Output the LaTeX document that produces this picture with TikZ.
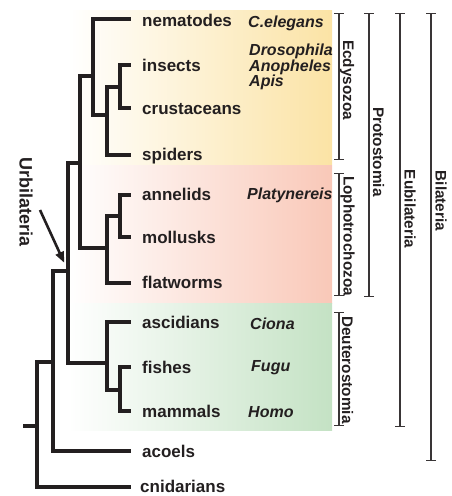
\documentclass[tikz,border=0pt]{standalone}
\usepackage{fontspec}
\setmainfont{Liberation Sans}
\usetikzlibrary{arrows.meta}
\definecolor{ink}{HTML}{231F20}
\definecolor{ecdy}{HTML}{FBE3A5}
\definecolor{loph}{HTML}{F9C8B8}
\definecolor{deut}{HTML}{C4E2C4}
\begin{document}
\begin{tikzpicture}[x=1pt,y=-1pt,
  branch/.style={line width=3.2pt, draw=ink, line join=miter},
  taxon/.style={anchor=base west, inner sep=0pt, font=\fontsize{17}{20}\selectfont\bfseries, text=ink},
  genus/.style={anchor=base west, inner sep=0pt, font=\fontsize{16}{16}\selectfont\bfseries\itshape, text=ink},
  clade/.style={rotate=-90, inner sep=0pt, font=\fontsize{15.3}{16}\selectfont\bfseries, text=ink},
  bracket/.style={line width=1.4pt, draw=ink!90, {Bar[width=10pt]}-{Bar[width=10pt]}},
]
\useasboundingbox (0,0) rectangle (452,496);
% backgrounds
\fill[left color=white, right color=ecdy] (68,10) rectangle (332,164.5);
\fill[left color=white, right color=loph] (68,165.5) rectangle (332,303.5);
\fill[left color=white, right color=deut] (68,303.5) rectangle (332,430);

% leaves (line ends)
\coordinate (nem) at (131,19);
\coordinate (ins) at (131,65);
\coordinate (cru) at (131,108);
\coordinate (spi) at (131,155);
\coordinate (ann) at (131,195);
\coordinate (mol) at (131,237);
\coordinate (fla) at (131,283);
\coordinate (asc) at (131,322);
\coordinate (fis) at (131,367);
\coordinate (mam) at (131,411);
\coordinate (aco) at (131,451);
\coordinate (cni) at (131,487);
% internal nodes
\coordinate (IC) at (120,87);
\coordinate (ICS) at (107,115);
\coordinate (Ecd) at (93,76);
\coordinate (AM) at (120,216);
\coordinate (Lop) at (107,248);
\coordinate (Pro) at (80,163);
\coordinate (FM) at (120,390);
\coordinate (Deu) at (107,363);
\coordinate (Eub) at (68,271);
\coordinate (Bil) at (53,362);
\coordinate (Root) at (37,426);
\coordinate (stub) at (23,426);

% tree
\draw[branch] (IC) |- (ins);
\draw[branch] (IC) |- (cru);
\draw[branch] (ICS) |- (IC);
\draw[branch] (ICS) |- (spi);
\draw[branch] (Ecd) |- (nem);
\draw[branch] (Ecd) |- (ICS);
\draw[branch] (AM) |- (ann);
\draw[branch] (AM) |- (mol);
\draw[branch] (Lop) |- (AM);
\draw[branch] (Lop) |- (fla);
\draw[branch] (Pro) |- (Ecd);
\draw[branch] (Pro) |- (Lop);
\draw[branch] (FM) |- (fis);
\draw[branch] (FM) |- (mam);
\draw[branch] (Deu) |- (asc);
\draw[branch] (Deu) |- (FM);
\draw[branch] (Eub) |- (Pro);
\draw[branch] (Eub) |- (Deu);
\draw[branch] (Bil) |- (Eub);
\draw[branch] (Bil) |- (aco);
\draw[branch] (Root) |- (Bil);
\draw[branch] (Root) |- (cni);
\draw[branch] (stub) -- (Root);

% taxon labels
\node[taxon] (tnem) at (142,26) {nematodes};
\node[taxon] (tins) at (142,71) {insects};
\node[taxon] (tcru) at (142,114) {crustaceans};
\node[taxon] (tspi) at (142,160) {spiders};
\node[taxon] (tann) at (142,200) {annelids};
\node[taxon] (tmol) at (142,243) {mollusks};
\node[taxon] (tfla) at (142,288) {flatworms};
\node[taxon] (tasc) at (142,328) {ascidians};
\node[taxon] (tfis) at (142,373) {fishes};
\node[taxon] (tmam) at (142,417) {mammals};
\node[taxon] (taco) at (142,457) {acoels};
\node[taxon] (tcni) at (140,492.5) {cnidarians};

% genus labels
\node[genus] (gce) at (248,27) {C.elegans};
\node[genus] (gdr) at (249,55) {Drosophila};
\node[genus] (gan) at (249,71) {Anopheles};
\node[genus] (gap) at (249,86.5) {Apis};
\node[genus] (gpl) at (247,199) {Platynereis};
\node[genus] (gci) at (250,329) {Ciona};
\node[genus] (gfu) at (251,371) {Fugu};
\node[genus] (gho) at (248,417) {Homo};

% brackets
\coordinate (b1t) at (339,13);  \coordinate (b1b) at (339,160);
\coordinate (b2t) at (339,173); \coordinate (b2b) at (339,296);
\coordinate (b3t) at (339,312); \coordinate (b3b) at (339,426);
\coordinate (b4t) at (369,13);  \coordinate (b4b) at (369,297);
\coordinate (b5t) at (400,13);  \coordinate (b5b) at (400,427);
\coordinate (b6t) at (431,13);  \coordinate (b6b) at (431,461);
\draw[bracket] (b1t) -- (b1b);
\draw[bracket] (b2t) -- (b2b);
\draw[bracket] (b3t) -- (b3b);
\draw[bracket] (b4t) -- (b4b);
\draw[bracket] (b5t) -- (b5b);
\draw[bracket] (b6t) -- (b6b);
\node[clade] (cecd) at (347,80) {Ecdysozoa};
\node[clade] (clop) at (347.5,236) {Lophotrochozoa};
\node[clade] (cdeu) at (347.5,370) {Deuterostomia};
\node[clade] (cpro) at (378.5,152) {Protostomia};
\node[clade] (ceub) at (410,209) {Eubilateria};
\node[clade] (cbil) at (441,201) {Bilateria};

% Urbilateria
\node[rotate=-90, inner sep=0pt, font=\fontsize{18}{20}\selectfont\bfseries, text=ink] (urb) at (26,202) {Urbilateria};
\coordinate (urbtail) at (40,210);
\draw[line width=2.6pt, draw=ink, -{Triangle[length=11pt,width=8.5pt]}, shorten >=9pt] (urbtail) -- (Eub);
\end{tikzpicture}
\end{document}
